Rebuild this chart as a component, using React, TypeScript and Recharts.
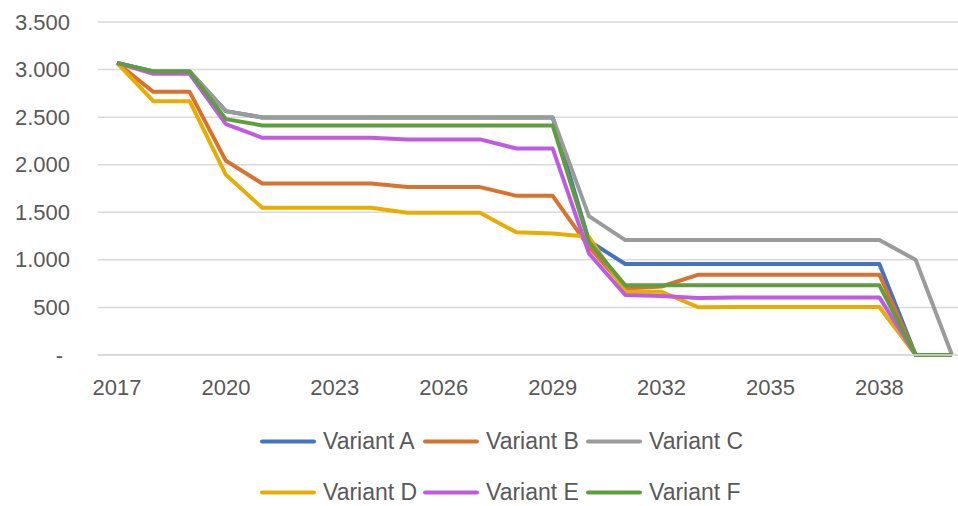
import { CartesianGrid, Line, LineChart, XAxis, YAxis } from "recharts"

const years = [
    "2017", "2018", "2019", "2020", "2021", "2022", "2023", "2024", "2025", "2026", "2027", "2028",
    "2029", "2030", "2031", "2032", "2033", "2034", "2035", "2036", "2037", "2038", "2039", "2040",
]

const variantA = [3070, 2980, 2980, 2563, 2497, 2497, 2497, 2497, 2497, 2497, 2497, 2497, 2497, 1200, 956, 956, 956, 956, 956, 956, 956, 956, 0, 0]
const variantB = [3070, 2766, 2766, 2041, 1803, 1803, 1803, 1803, 1765, 1765, 1765, 1673, 1673, 1138, 700, 720, 843, 843, 843, 843, 843, 843, 0, 0]
const variantC = [3070, 2980, 2980, 2563, 2497, 2497, 2497, 2497, 2497, 2497, 2497, 2497, 2497, 1460, 1208, 1208, 1208, 1208, 1208, 1208, 1208, 1208, 1000, 0]
const variantD = [3070, 2668, 2668, 1894, 1547, 1547, 1547, 1547, 1495, 1495, 1495, 1289, 1278, 1243, 665, 665, 503, 505, 505, 505, 505, 505, 0, 0]
const variantE = [3070, 2955, 2955, 2426, 2283, 2283, 2283, 2283, 2266, 2266, 2266, 2171, 2171, 1068, 630, 620, 600, 605, 605, 605, 605, 605, 0, 0]
const variantF = [3070, 2980, 2980, 2479, 2413, 2413, 2413, 2413, 2413, 2413, 2413, 2413, 2413, 1190, 732, 732, 732, 732, 732, 732, 732, 732, 0, 0]

const yTicks = [0, 500, 1000, 1500, 2000, 2500, 3000, 3500]

const series = [
    { key: "a", name: "Variant A", color: "#4472C4", values: variantA },
    { key: "b", name: "Variant B", color: "#D9712F", values: variantB },
    { key: "c", name: "Variant C", color: "#9B9B9B", values: variantC },
    { key: "d", name: "Variant D", color: "#E8AD00", values: variantD },
    { key: "e", name: "Variant E", color: "#BF5BE3", values: variantE },
    { key: "f", name: "Variant F", color: "#5F9E3F", values: variantF },
]

const data = years.map((year, i) => {
    const row: Record<string, string | number> = { year }
    series.forEach((s) => { row[s.key] = s.values[i] })
    return row
})

const FONT = "'Liberation Sans', Arial, sans-serif"
const TEXT = "#595959"

function fmt(v: number) {
    if (v === 0) return "-"
    return v.toString().replace(/\B(?=(\d{3})+(?!\d))/g, ".")
}

function YTick({ x, y, payload }: any) {
    const zero = payload.value === 0
    return (
        <text x={zero ? x - 7 : x} y={y} textAnchor="end" dominantBaseline="central"
            fill={TEXT} fontSize={22} fontFamily={FONT}>
            {fmt(payload.value)}
        </text>
    )
}

function XTick({ x, y, payload }: any) {
    return (
        <text x={x} y={y} textAnchor="middle" dominantBaseline="central"
            fill={TEXT} fontSize={22} fontFamily={FONT}>
            {payload.value}
        </text>
    )
}

export default function App() {
    return (
        <div style={{ position: "absolute", left: 0, top: 0, width: 958, height: 506, background: "#fff" }}>
            <LineChart width={958} height={506} data={data} margin={{ top: 22, right: 0, bottom: 0, left: 0 }}>
                <CartesianGrid vertical={false} stroke="#D9D9D9" strokeWidth={1.5} />
                <XAxis dataKey="year" height={151} interval={2} padding={{ left: 19, right: 6 }}
                    tickLine={false} tickSize={0} tickMargin={32} axisLine={{ stroke: "#D9D9D9", strokeWidth: 1.5 }}
                    tick={<XTick />} />
                <YAxis width={98} domain={[0, 3500]} ticks={yTicks} axisLine={false} tickLine={false}
                    tickSize={0} tickMargin={28} tick={<YTick />} />
                {series.map((s) => (
                    <Line key={s.key} dataKey={s.key} name={s.name} type="linear" stroke={s.color}
                        strokeWidth={4} dot={false} activeDot={false} isAnimationActive={false}
                        strokeLinejoin="round" />
                ))}
            </LineChart>
            {series.map((s, i) => (
                <div key={s.key} style={{
                    position: "absolute", left: 260 + (i % 3) * 163, top: i < 3 ? 441 : 492,
                    transform: "translateY(-50%)", display: "flex", alignItems: "center",
                    fontFamily: FONT, fontSize: 23, color: TEXT, whiteSpace: "nowrap",
                }}>
                    <div style={{ width: 56, height: 4, borderRadius: 2, background: s.color, marginRight: 7 }} />
                    <span>{s.name}</span>
                </div>
            ))}
        </div>
    )
}
